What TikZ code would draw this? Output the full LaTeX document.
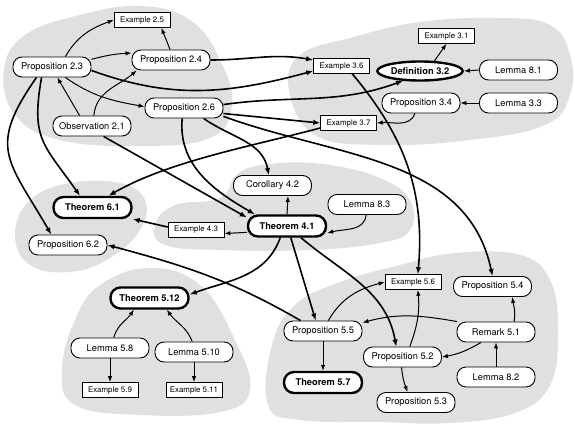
\documentclass[tikz,border=0pt]{standalone}
\usepackage{fontspec}
\setmainfont{TeX Gyre Heros}
\usetikzlibrary{shapes.geometric,arrows.meta}
\definecolor{blobgray}{gray}{0.88}

\begin{document}
\begin{tikzpicture}[x=1pt,y=1pt,
    every node/.style={font=\fontsize{9.3}{11}\selectfont},
    res/.style={draw, rectangle, rounded corners=9pt, minimum width=78pt, minimum height=20pt, line width=0.9pt, fill=white, inner sep=2pt},
    thm/.style={res, rounded corners=10pt, line width=2.4pt, minimum height=21pt, font=\fontsize{9.3}{11}\selectfont\bfseries},
    expl/.style={draw, rectangle, minimum width=56pt, minimum height=15pt, line width=0.6pt, fill=white, inner sep=2pt, font=\fontsize{7.9}{9}\selectfont},
    defn/.style={draw, ellipse, line width=2.4pt, minimum width=84pt, minimum height=19pt, fill=white, inner sep=1pt, font=\fontsize{9.3}{11}\selectfont\bfseries},
    link/.style={-{Latex[length=6pt,width=4.5pt]}, line width=1pt},
    xlink/.style={-{Latex[length=7pt,width=5.5pt]}, line width=1.6pt}]
    \useasboundingbox (0,0) rectangle (575,-428);
    % chapter areas
    \fill[blobgray] plot[smooth cycle, tension=0.7] coordinates {(4,-70) (25,-35) (80,-15) (140,-6) (190,-20) (220,-60) (232,-105) (210,-138) (140,-146) (60,-140) (15,-115)};
    \fill[blobgray] plot[smooth cycle, tension=0.7] coordinates {(289,-90) (300,-55) (350,-38) (420,-22) (500,-18) (550,-25) (570,-55) (570,-95) (545,-125) (470,-140) (380,-145) (315,-135)};
    \fill[blobgray] plot[smooth cycle, tension=0.7] coordinates {(155,-225) (175,-205) (220,-198) (240,-172) (280,-163) (330,-165) (380,-178) (410,-200) (410,-230) (380,-243) (310,-250) (220,-250) (165,-245)};
    \fill[blobgray] plot[smooth cycle, tension=0.7] coordinates {(15,-235) (30,-200) (70,-183) (120,-183) (145,-200) (140,-230) (110,-258) (70,-272) (30,-265)};
    \fill[blobgray] plot[smooth cycle, tension=0.7] coordinates {(100,-285) (150,-268) (200,-285) (235,-340) (250,-390) (220,-412) (140,-415) (75,-405) (62,-370) (75,-320)};
    \fill[blobgray] plot[smooth cycle, tension=0.7] coordinates {(268,-405) (272,-345) (295,-305) (340,-282) (400,-265) (455,-253) (520,-255) (550,-280) (558,-330) (550,-385) (515,-413) (450,-423) (380,-422) (300,-420)};
    % chapter 2
    \node[expl] (ex25) at (142,-20) {Example 2.5};
    \node[res] (p23) at (52,-67) {Proposition 2.3};
    \node[res] (p24) at (171,-60) {Proposition 2.4};
    \node[res] (p26) at (184,-108) {Proposition 2.6};
    \node[res] (o21) at (92,-126) {Observation 2.1};
    % chapter 3
    \node[expl] (ex36) at (341.5,-66) {Example 3.6};
    \node[defn] (d32) at (420,-71) {Definition 3.2};
    \node[expl] (ex31) at (446.5,-36) {Example 3.1};
    \node[res] (l81) at (518.5,-70) {Lemma 8.1};
    \node[res] (p34) at (421,-103) {Proposition 3.4};
    \node[res] (l33) at (518.5,-103) {Lemma 3.3};
    \node[expl] (ex37) at (348.5,-123) {Example 3.7};
    % chapter 4
    \node[res] (c42) at (272.5,-185.5) {Corollary 4.2};
    \node[res] (l83) at (367,-204.5) {Lemma 8.3};
    \node[thm] (t41) at (287,-226) {Theorem 4.1};
    \node[expl] (ex43) at (196,-229.5) {Example 4.3};
    % chapter 6
    \node[thm] (t61) at (92.5,-207.5) {Theorem 6.1};
    \node[res] (p62) at (68,-245) {Proposition 6.2};
    % theorem 5.12
    \node[thm] (t512) at (149.5,-298) {Theorem 5.12};
    \node[res] (l58) at (110,-348) {Lemma 5.8};
    \node[res] (l510) at (194,-352) {Lemma 5.10};
    \node[expl] (ex59) at (110,-390) {Example 5.9};
    \node[expl] (ex511) at (194,-390) {Example 5.11};
    % chapter 5
    \node[expl] (ex56) at (413,-282) {Example 5.6};
    \node[res] (p54) at (492.5,-286.5) {Proposition 5.4};
    \node[res] (p55) at (323,-331) {Proposition 5.5};
    \node[res] (r51) at (496,-332) {Remark 5.1};
    \node[res] (p52) at (402.5,-357) {Proposition 5.2};
    \node[thm] (t57) at (323,-382.5) {Theorem 5.7};
    \node[res] (l82) at (496,-377) {Lemma 8.2};
    \node[res] (p53) at (416,-402.5) {Proposition 5.3};
    % inside chapter 2
    \draw[link] (p23.38) to[out=60,in=200] (ex25.west);
    \draw[link] (p24.95) -- (ex25.-22);
    \draw[link] (p23.11) to[bend left=6] (p24.170);
    \draw[link] (p23.-38) to[out=-35,in=170] (p26.178);
    \draw[link] (o21.140) -- (p23.-63);
    \draw[link] (o21.80) to[out=85,in=220] (p24.-163);
    % out of chapter 2
    \draw[xlink] (p23.-5) to[out=-20,in=195] (ex36.190);
    \draw[xlink] (p24.east) to[out=0,in=170] (ex36.168);
    \draw[xlink] (p26.5) to[out=8,in=200] (d32.-150);
    \draw[xlink] (p26.-8) -- (ex37.west);
    \draw[xlink] (p26.-12) to[out=-20,in=102] (p54.north);
    \draw[xlink] (p26.-28) to[out=-35,in=100] (c42.110);
    \draw[xlink] (p26.-100) to[out=-95,in=150] (t41.160);
    \draw[xlink] (o21.-42) -- (t41.168);
    \draw[xlink] (p23.-135) to[out=-100,in=125,looseness=1.3] (t61.137);
    \draw[xlink] (p23.-146) to[out=-125,in=120,looseness=1.4] (p62.148);
    % chapter 3
    \draw[link] (l81.west) -- (d32.east);
    \draw[link] (l33.west) -- (p34.east);
    \draw[link] (d32.35) -- (ex31.south);
    \draw[link] (p34.-120) to[out=-110,in=5] (ex37.east);
    \draw[xlink] (ex37.190) to[out=195,in=30,looseness=0.8] (t61.36);
    \draw[xlink] (ex36.-36) to[out=-50,in=85] (ex56.58);
    % chapter 4
    \draw[link] (t41.north) -- (c42.-34);
    \draw[link] (l83.-95) to[out=-95,in=15] (t41.-10);
    \draw[link] (t41.-171) -- (ex43.-8);
    \draw[xlink] (ex43.175) -- (t61.-16);
    \draw[xlink] (t41.-120) to[out=-110,in=20] (t512.5);
    \draw[xlink] (t41.-72) -- (p55.125);
    \draw[xlink] (t41.-40) to[out=-40,in=100] (p52.121);
    % chapter 5
    \draw[xlink] (p55.155) to[out=150,in=-15] (p62.east);
    \draw[link] (p55.63) to[out=60,in=195] (ex56.west);
    \draw[link] (p55.south) -- (t57.north);
    \draw[link] (r51.165) to[out=170,in=15] (p55.12);
    \draw[link] (r51.30) to[out=80,in=-80] (p54.-28);
    \draw[link] (r51.-145) to[out=-150,in=10] (p52.east);
    \draw[link] (l82.north) -- (r51.south);
    \draw[link] (p52.55) to[out=70,in=-85] (ex56.-58);
    \draw[link] (p52.-95) to[out=-85,in=110] (p53.129);
    % theorem 5.12
    \draw[link] (l58.70) to[out=75,in=-125] (t512.-143);
    \draw[link] (l510.100) to[out=110,in=-55] (t512.-34);
    \draw[link] (l58.south) -- (ex59.north);
    \draw[link] (l510.south) -- (ex511.north);
\end{tikzpicture}
\end{document}
